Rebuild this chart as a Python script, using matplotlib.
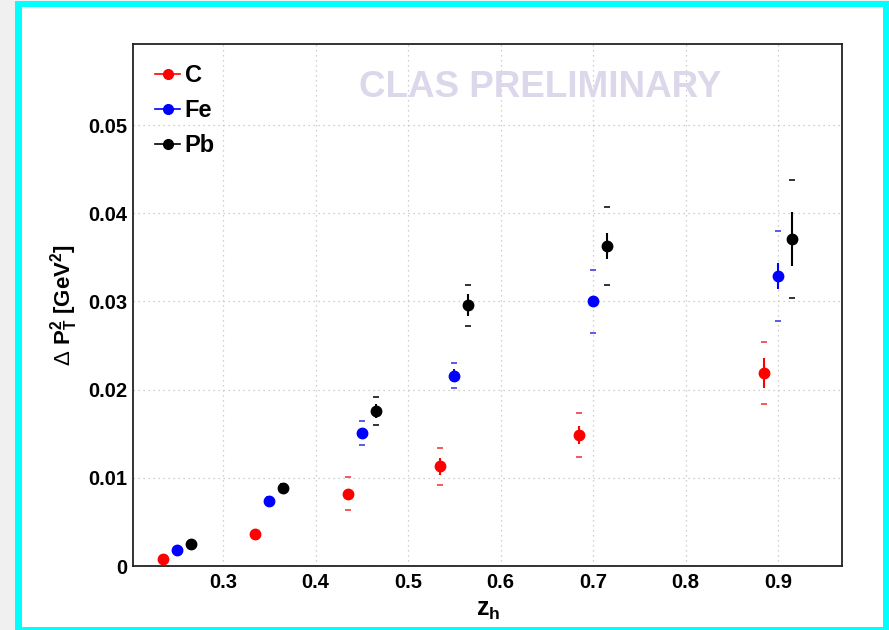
import matplotlib
matplotlib.use("Agg")
import matplotlib.pyplot as plt
from matplotlib.patches import Rectangle
from matplotlib.lines import Line2D

plt.rcParams['font.family'] = ['Liberation Sans', 'DejaVu Sans']
plt.rcParams['mathtext.fontset'] = 'custom'
plt.rcParams['mathtext.rm'] = 'Liberation Sans'
plt.rcParams['mathtext.bf'] = 'Liberation Sans:bold'
plt.rcParams['mathtext.it'] = 'Liberation Sans:italic'

# ---- data ----
targets = ["C", "Fe", "Pb"]
colors = ["#ff0000", "#0000ff", "#000000"]
sys_colors = ["#f05a5a", "#5a5ae6", "#333333"]

x_C = [0.235, 0.335, 0.435, 0.535, 0.685, 0.885]
y_C = [0.00082, 0.0036, 0.0082, 0.0113, 0.01485, 0.0219]
stat_C = [0.0002, 0.0003, 0.0005, 0.0010, 0.00105, 0.0017]
sys_C = [0.0003, 0.0004, 0.0019, 0.0021, 0.0025, 0.0035]

x_Fe = [0.25, 0.35, 0.45, 0.55, 0.70, 0.90]
y_Fe = [0.0018, 0.0074, 0.01507, 0.0216, 0.0300, 0.0329]
stat_Fe = [0.0002, 0.0003, 0.0005, 0.0007, 0.0005, 0.0015]
sys_Fe = [0.0003, 0.0004, 0.0014, 0.00145, 0.0036, 0.0051]

x_Pb = [0.265, 0.365, 0.465, 0.565, 0.715, 0.915]
y_Pb = [0.00247, 0.0089, 0.01757, 0.02957, 0.0363, 0.0371]
stat_Pb = [0.0002, 0.0003, 0.0008, 0.00125, 0.0015, 0.0031]
sys_Pb = [0.0003, 0.0004, 0.00155, 0.00235, 0.00445, 0.0067]

xs = [x_C, x_Fe, x_Pb]
ys = [y_C, y_Fe, y_Pb]
stats = [stat_C, stat_Fe, stat_Pb]
syss = [sys_C, sys_Fe, sys_Pb]

x_ticks = [0.3, 0.4, 0.5, 0.6, 0.7, 0.8, 0.9]
y_ticks = [0, 0.01, 0.02, 0.03, 0.04, 0.05]
y_tick_labels = ["0", "0.01", "0.02", "0.03", "0.04", "0.05"]

W, H = 889, 630
fig = plt.figure(figsize=(W / 100, H / 100), dpi=100)
fig.patch.set_facecolor("#f0f0f0")

# cyan canvas border and white canvas
fig.patches.append(Rectangle((15 / W, 0), 1, 1 - 1 / H, transform=fig.transFigure,
                             facecolor="#00ffff", edgecolor="none", zorder=-2))
fig.patches.append(Rectangle((22 / W, 1 - 627 / H), (883 - 22) / W, (627 - 7) / H,
                             transform=fig.transFigure, facecolor="white",
                             edgecolor="none", zorder=-1))

ax = fig.add_axes([133 / W, 1 - 566 / H, (842 - 133) / W, (566 - 44) / H])
ax.set_zorder(2)
ax.set_facecolor("white")
ax.set_xlim(0.2027, 0.969)
ax.set_ylim(0, 0.0592)

ax.set_xticks(x_ticks)
ax.set_xticklabels([f"{v:.1f}" for v in x_ticks])
ax.set_yticks(y_ticks)
ax.set_yticklabels(y_tick_labels)
ax.tick_params(axis="x", length=0, labelsize=14.5, pad=5)
ax.tick_params(axis="y", length=0, labelsize=14.5, pad=4)
for lab in ax.get_xticklabels() + ax.get_yticklabels():
    lab.set_fontweight("bold")

ax.grid(True, linestyle=(0, (1, 3)), color="#c0c0c0", linewidth=0.9)
ax.set_axisbelow(True)
for s in ax.spines.values():
    s.set_linewidth(1.3)
    s.set_color("#222222")

for x, y, st, sy, c, sc in zip(xs, ys, stats, syss, colors, sys_colors):
    ax.errorbar(x, y, yerr=st, fmt="o", color=c, ms=7.5, elinewidth=1.5,
                capsize=0, zorder=3)
    ax.plot(x, [a + b for a, b in zip(y, sy)], linestyle="none", marker="_",
            ms=5, mew=1.4, color=sc, zorder=2)
    ax.plot(x, [a - b for a, b in zip(y, sy)], linestyle="none", marker="_",
            ms=5, mew=1.4, color=sc, zorder=2)

# legend
handles = [Line2D([0], [0], color=c, marker="o", ms=7, lw=1.2) for c in colors]
leg = ax.legend(handles, targets, loc="upper left", frameon=False,
                prop={"weight": "bold", "size": 17}, handlelength=1.05,
                handletextpad=0.2, labelspacing=0.5,
                bbox_to_anchor=(0.008, 0.993), borderaxespad=0.3)

# preliminary stamp
ax.text(0.574, 0.9176, "CLAS PRELIMINARY", transform=ax.transAxes,
        ha="center", va="center", fontsize=26.5, fontweight="bold",
        color="#dcd7eb", zorder=1)

# axis titles
fig.text(488 / W, 1 - 610 / H, r"$\mathbf{z_{h}}$", ha="center", va="center",
         fontsize=18)
fig.text(64 / W, 1 - 305 / H,
         r"$\Delta$ $\mathbf{P^{2}_{T}}$ $\mathbf{[GeV^{2}]}$",
         rotation=90, ha="center", va="center", fontsize=16)

fig.savefig("out.png", dpi=100, facecolor=fig.get_facecolor())
